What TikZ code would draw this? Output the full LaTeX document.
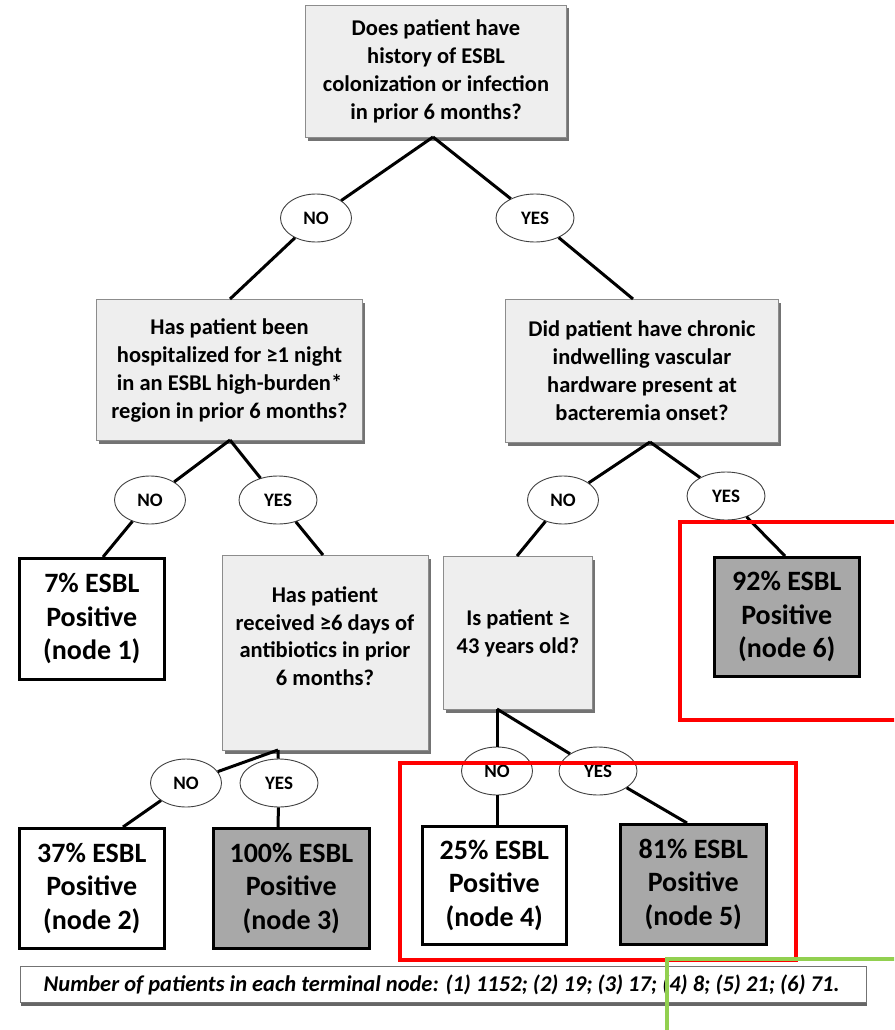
\documentclass[tikz,border=0pt]{standalone}
\usepackage{fontspec}
\setmainfont{Carlito}
\usetikzlibrary{shapes.geometric,shadows}
\definecolor{boxgray}{HTML}{EEEEEE}
\definecolor{leafgray}{HTML}{A8A8A8}
\definecolor{annred}{HTML}{FF0000}
\definecolor{anngreen}{HTML}{92D050}
\tikzset{
  qbox/.style={draw=black!45, fill=boxgray, line width=1pt,
    drop shadow={shadow xshift=2pt, shadow yshift=-3pt, fill=black!55, opacity=1},
    font=\bfseries\fontsize{22.5}{28}\selectfont, align=center, anchor=north west, inner sep=0pt},
  leaf/.style={draw=black, line width=2.6pt, align=center, anchor=north west, inner sep=0pt,
    font=\bfseries\fontsize{28}{33.5}\selectfont},
  leafw/.style={leaf, fill=white},
  leafg/.style={leaf, fill=leafgray},
  lab/.style={ellipse, draw=black!75, fill=white, line width=0.9pt, inner sep=0pt,
    font=\bfseries\fontsize{19}{20}\selectfont, minimum height=48pt},
  labno/.style={lab, minimum width=71pt},
  labyes/.style={lab, minimum width=78pt},
  conn/.style={line width=3pt, black},
  annot/.style={line width=4pt},
}
\begin{document}
\begin{tikzpicture}[x=1pt, y=-1pt]
\useasboundingbox (0,0) rectangle (894,1030);
\clip (0,0) rectangle (894,1030);
\fill[white] (0,0) rectangle (894,1030);

% question boxes
\node[qbox, minimum width=261pt, minimum height=132pt] (q0) at (305,5)
  {Does patient have\\history of ESBL\\colonization or infection\\in prior 6 months?};
\node[qbox, minimum width=266pt, minimum height=141pt] (q1) at (96,299)
  {Has patient been\\hospitalized for ≥1 night\\in an ESBL high-burden*\\region in prior 6 months?};
\node[qbox, minimum width=273pt, minimum height=143pt] (q2) at (505,299)
  {Did patient have chronic\\indwelling vascular\\hardware present at\\bacteremia onset?};
\node[qbox, minimum width=206pt, minimum height=195pt] (q3) at (222,555) {};
\node[font=\bfseries\fontsize{22.5}{27.5}\selectfont, align=center] (q3t) at (325,636)
  {Has patient\\received ≥6 days of\\antibiotics in prior\\6 months?};
\node[qbox, minimum width=149pt, minimum height=153pt] (q4) at (443,556)
  {Is patient ≥\\43 years old?};

% leaves
\node[leafw, minimum width=145pt, minimum height=121pt] (n1) at (18,557) {7\% ESBL\\Positive\\(node 1)};
\node[leafw, minimum width=145pt, minimum height=120pt] (n2) at (18,827) {37\% ESBL\\Positive\\(node 2)};
\node[leafg, minimum width=156pt, minimum height=120pt] (n3) at (212,827) {100\% ESBL\\Positive\\(node 3)};
\node[leafw, minimum width=144pt, minimum height=118pt] (n4) at (421,825) {25\% ESBL\\Positive\\(node 4)};
\node[leafg, minimum width=146pt, minimum height=120pt] (n5) at (619,823) {81\% ESBL\\Positive\\(node 5)};
\node[leafg, minimum width=145pt, minimum height=119pt] (n6) at (713,556) {92\% ESBL\\Positive\\(node 6)};

% connector anchor points
\coordinate (q0b) at (433,137);
\coordinate (q1t) at (230,299);
\coordinate (q2t) at (633,299);
\coordinate (q1b) at (230,440);
\coordinate (q2b) at (650,442);
\coordinate (n1t) at (103,557);
\coordinate (q3top) at (323,555);
\coordinate (q4top) at (517,556);
\coordinate (n6t) at (785,556);
\coordinate (q3b) at (278,750);
\coordinate (q4b) at (497,709);
\coordinate (n2t) at (123,827);
\coordinate (n3t) at (278,827);
\coordinate (n4t) at (497,825);
\coordinate (n5t) at (687,823);

% labels
\node[labno]  (e1n) at (316,218) {NO};
\node[labyes] (e1y) at (535,218) {YES};
\node[labno]  (e2n) at (150,500) {NO};
\node[labyes] (e2y) at (278,500) {YES};
\node[labno]  (e3n) at (563,500) {NO};
\node[labyes] (e3y) at (726,496) {YES};
\node[labno]  (e4n) at (186,783) {NO};
\node[labyes] (e4y) at (279,783) {YES};
\node[labno]  (e5n) at (497,771) {NO};
\node[labyes] (e5y) at (598,771) {YES};

% connectors
\draw[conn] (q0b) -- (e1n) -- (q1t);
\draw[conn] (q0b) -- (e1y) -- (q2t);
\draw[conn] (q1b) -- (e2n) -- (n1t);
\draw[conn] (q1b) -- (e2y) -- (q3top);
\draw[conn] (q2b) -- (e3n) -- (q4top);
\draw[conn] (q2b) -- (e3y) -- (n6t);
\draw[conn] (q3b) -- (e4n) -- (n2t);
\draw[conn] (q3b) -- (e4y) -- (n3t);
\draw[conn] (q4b) -- (e5n) -- (n4t);
\draw[conn] (q4b) -- (e5y) -- (n5t);

% footer
\node[draw=black!55, fill=white, line width=1pt, anchor=north west, inner sep=0pt,
  minimum width=846pt, minimum height=36pt,
  drop shadow={shadow xshift=0pt, shadow yshift=-3pt, fill=black!60, opacity=1}] (foot) at (20,966) {};
\node[font=\bfseries\itshape\fontsize{22.5}{24}\selectfont, xshift=-2pt] (foott) at (foot.center)
  {Number of patients in each terminal node: (1) 1152; (2) 19; (3) 17; (4) 8; (5) 21; (6) 71.};

% annotation frames
\node[draw=annred, annot, anchor=north west, minimum width=240pt, minimum height=198pt, inner sep=0pt] (r1) at (678,520) {};
\node[draw=annred, annot, anchor=north west, minimum width=396pt, minimum height=197pt, inner sep=0pt] (r2) at (398,761) {};
\node[draw=anngreen, line width=3.5pt, anchor=north west, minimum width=250pt, minimum height=100pt, inner sep=0pt] (g1) at (665,957) {};
\end{tikzpicture}
\end{document}
